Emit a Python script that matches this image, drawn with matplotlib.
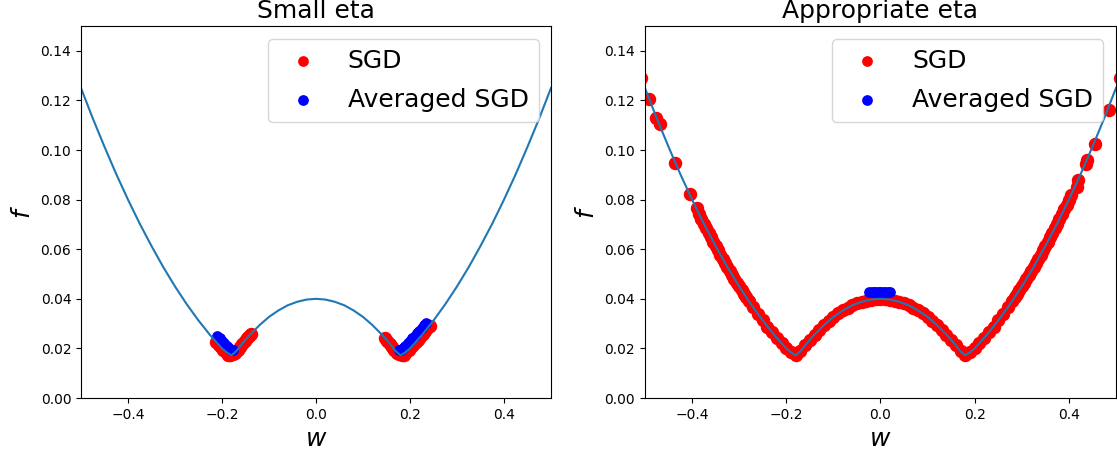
import matplotlib
matplotlib.use("Agg")
import matplotlib.pyplot as plt

# loss curve
w_curve = [-0.5, -0.475, -0.45, -0.425, -0.4, -0.375, -0.35, -0.325, -0.3, -0.275,
           -0.25, -0.225, -0.2, -0.19, -0.18, -0.17, -0.16, -0.15, -0.14, -0.12, -0.1,
           -0.08, -0.06, -0.04, -0.02, 0.0, 0.02, 0.04, 0.06, 0.08, 0.1, 0.12, 0.14,
           0.15, 0.16, 0.17, 0.18, 0.19, 0.2, 0.225, 0.25, 0.275, 0.3, 0.325, 0.35,
           0.375, 0.4, 0.425, 0.45, 0.475, 0.5]
f_curve = [0.125, 0.1128, 0.1013, 0.0903, 0.08, 0.0703, 0.0613, 0.0528, 0.045, 0.0378,
           0.03125, 0.0253, 0.02, 0.0184, 0.0172, 0.0188, 0.0212, 0.0235, 0.0256, 0.0294, 0.0327,
           0.0353, 0.0374, 0.0388, 0.0397, 0.04, 0.0397, 0.0388, 0.0374, 0.0353, 0.0327, 0.0294, 0.0256,
           0.0235, 0.0212, 0.0188, 0.0172, 0.0184, 0.02, 0.0253, 0.03125, 0.0378, 0.045, 0.0528, 0.0613,
           0.0703, 0.08, 0.0903, 0.1013, 0.1128, 0.125]

# small eta: SGD iterates
w_sgd_small = [-0.212, -0.207, -0.202, -0.197, -0.192, -0.187, -0.182, -0.177, -0.172, -0.167,
               -0.162, -0.157, -0.152, -0.147, -0.142, -0.138,
               0.147, 0.152, 0.157, 0.162, 0.167, 0.172, 0.177, 0.182, 0.187, 0.192, 0.197,
               0.202, 0.207, 0.212, 0.217, 0.222, 0.227, 0.232, 0.237, 0.242]
f_sgd_small = [0.0225, 0.0214, 0.0204, 0.0194, 0.0184, 0.0175, 0.0172, 0.0176, 0.0183, 0.0195,
               0.0207, 0.0219, 0.023, 0.0241, 0.0252, 0.026,
               0.0241, 0.023, 0.0219, 0.0207, 0.0195, 0.0183, 0.0176, 0.0172, 0.0175, 0.0184, 0.0194,
               0.0204, 0.0214, 0.0225, 0.0235, 0.0246, 0.0258, 0.0269, 0.0281, 0.029]

# small eta: averaged SGD
w_avg_small = [-0.21, -0.205, -0.2, -0.195, -0.19, -0.185, -0.18, -0.176,
               0.176, 0.18, 0.185, 0.19, 0.195, 0.2, 0.205, 0.21, 0.215, 0.22, 0.225, 0.23, 0.234]
f_avg_small = [0.0251, 0.024, 0.023, 0.022, 0.021, 0.0201, 0.0195, 0.0195,
               0.0195, 0.0195, 0.0201, 0.021, 0.022, 0.023, 0.024, 0.0251, 0.0261, 0.0272, 0.0283,
               0.0295, 0.0304]

# appropriate eta: SGD iterates
w_sgd_big = [-0.508, -0.4915, -0.477, -0.468, -0.436, -0.404, -0.39, -0.385,
             -0.38, -0.375, -0.37, -0.365, -0.36, -0.355, -0.35, -0.345, -0.34, -0.335, -0.33,
             -0.325, -0.32, -0.315, -0.31, -0.305, -0.3, -0.295, -0.29, -0.285, -0.28,
             -0.27, -0.26, -0.25, -0.24, -0.23, -0.22, -0.21, -0.2, -0.19, -0.18, -0.17, -0.16,
             -0.15, -0.14, -0.13, -0.12, -0.11, -0.1, -0.09, -0.08, -0.07, -0.06, -0.05, -0.04,
             -0.03, -0.02, -0.01, 0.0, 0.01, 0.02, 0.03, 0.04, 0.05, 0.06, 0.07, 0.08, 0.09, 0.1,
             0.11, 0.12, 0.13, 0.14, 0.15, 0.16, 0.17, 0.18, 0.19, 0.2, 0.21, 0.22, 0.23, 0.24,
             0.25, 0.26, 0.27, 0.28, 0.285, 0.29, 0.295, 0.3, 0.305, 0.31, 0.315, 0.32, 0.325,
             0.33, 0.335, 0.34, 0.345, 0.35, 0.355, 0.36, 0.365, 0.37, 0.375, 0.38, 0.385, 0.39,
             0.395, 0.4, 0.405, 0.418, 0.42, 0.436, 0.438, 0.455, 0.485, 0.508]
f_sgd_big = [0.129, 0.1206, 0.113, 0.1105, 0.0947, 0.0822, 0.0765, 0.0741,
             0.0722, 0.0703, 0.0685, 0.0666, 0.0648, 0.063, 0.0613, 0.0595, 0.0578, 0.0561, 0.0545,
             0.0528, 0.0512, 0.0496, 0.048, 0.0465, 0.045, 0.0435, 0.042, 0.0406, 0.0392,
             0.0365, 0.0338, 0.0313, 0.0288, 0.0265, 0.0242, 0.0221, 0.02, 0.0184, 0.0172, 0.0188, 0.0212,
             0.0235, 0.0256, 0.0276, 0.0294, 0.0311, 0.0327, 0.0341, 0.0353, 0.0364, 0.0374, 0.0382, 0.0388,
             0.0393, 0.0397, 0.0399, 0.04, 0.0399, 0.0397, 0.0393, 0.0388, 0.0382, 0.0374, 0.0364, 0.0353,
             0.0341, 0.0327, 0.0311, 0.0294, 0.0276, 0.0256, 0.0235, 0.0212, 0.0188, 0.0172, 0.0184,
             0.02, 0.0221, 0.0242, 0.0265, 0.0288, 0.0313, 0.0338, 0.0365, 0.0392, 0.0406, 0.042,
             0.0435, 0.045, 0.0465, 0.048, 0.0496, 0.0512, 0.0528, 0.0545, 0.0561, 0.0578, 0.0595,
             0.0613, 0.063, 0.0648, 0.0666, 0.0685, 0.0703, 0.0722, 0.0741, 0.0761, 0.078, 0.08,
             0.082, 0.085, 0.088, 0.0944, 0.096, 0.1024, 0.116, 0.129]

# appropriate eta: averaged SGD
w_avg_big = [-0.024, -0.019, -0.014, -0.009, -0.004, 0.0, 0.005, 0.01, 0.015, 0.02]
f_avg_big = [0.0429, 0.0429, 0.0429, 0.0429, 0.0429, 0.0429, 0.0429, 0.0429, 0.0429, 0.0429]

panels = [
    ("Small eta", w_sgd_small, f_sgd_small, w_avg_small, f_avg_small),
    ("Appropriate eta", w_sgd_big, f_sgd_big, w_avg_big, f_avg_big),
]

fig = plt.figure(figsize=(11.17, 4.53), dpi=100)
boxes = [[0.0725, 0.1214, 0.4208, 0.8212], [0.5774, 0.1214, 0.4217, 0.8212]]

for box, (title, ws, fs, wa, fa) in zip(boxes, panels):
    ax = fig.add_axes(box)
    ax.scatter(ws, fs, c="red", s=75, label="SGD")
    ax.scatter(wa, fa, c="blue", s=45, label="Averaged SGD")
    ax.plot(w_curve, f_curve)
    ax.set_xlim(-0.5, 0.5)
    ax.set_ylim(0, 0.15)
    ax.set_title(title, fontsize=18)
    ax.set_xlabel("$w$", fontsize=18)
    ax.set_ylabel("$f$", fontsize=18)
    leg = ax.legend(loc="upper right", fontsize=18, labelspacing=0.6)
    for h in leg.legend_handles:
        h.set_sizes([45])

fig.savefig("out.png", dpi=100)
